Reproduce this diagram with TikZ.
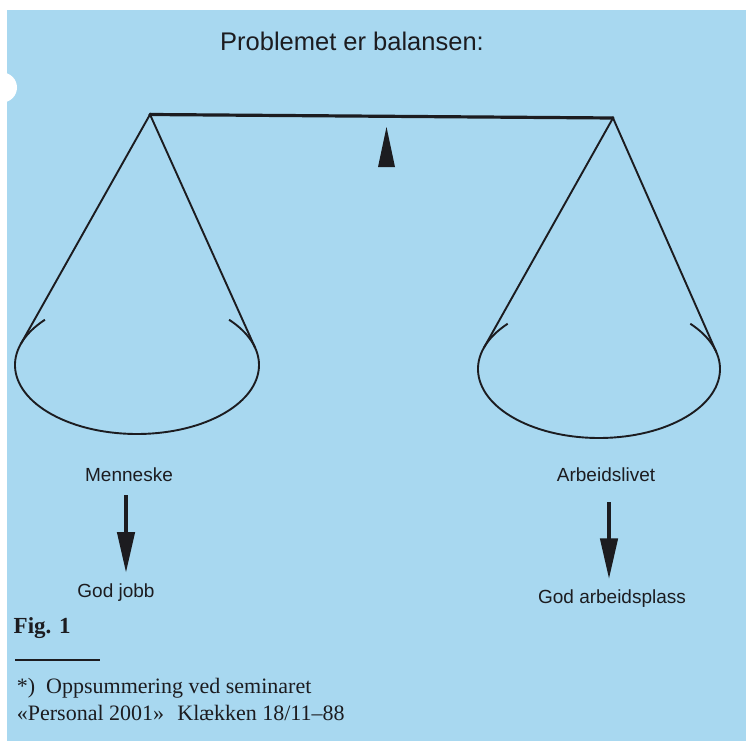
\documentclass[tikz,border=0pt]{standalone}
\usepackage{fontspec}
\usepackage{tikz}
\usetikzlibrary{arrows.meta,calc}
\newfontfamily\sansfnt{Liberation Sans}
\newfontfamily\seriffnt{Liberation Serif}
\definecolor{paperblue}{RGB}{168,216,240}
\definecolor{ink}{RGB}{28,28,32}

\begin{document}
\begin{tikzpicture}[x=1pt,y=1pt]
    \tikzstyle{every node}+=[inner sep=0pt]
    \tikzstyle{sanslbl}=[font=\sansfnt\fontsize{19}{22}\selectfont, text=ink, anchor=base]
    \tikzstyle{notetxt}=[font=\seriffnt\fontsize{22}{26}\selectfont, text=ink, anchor=base west]
    \tikzstyle{string}=[draw=ink, line width=1.9pt]
    \tikzstyle{downarrow}=[draw=ink, line width=4.5pt, -{Triangle[length=41pt,width=17pt]}, shorten >=10pt]
    \useasboundingbox (0,-741) rectangle (746,0);
    \fill [white] (0,-741) rectangle (746,0);
    \fill [paperblue] (7,-741) rectangle (746,-10);
    \fill [white] (2,-87.5) circle (15);
    \node [sanslbl, font=\sansfnt\fontsize{25.5}{30}\selectfont] (title) at (352,-50.7) {Problemet er balansen:};
    \coordinate (lapex) at (150,-114.5);
    \coordinate (rapex) at (613,-118);
    \coordinate (lpan) at (137,-365);
    \coordinate (rpan) at (599,-369);
    \draw [string] ($(lpan)+(162.3:122pt and 69pt)$) -- (lapex) -- ($(lpan)+(14.3:122pt and 69pt)$);
    \draw [string] ($(rpan)+(162.2:121pt and 69pt)$) -- (rapex) -- ($(rpan)+(14.1:121pt and 69pt)$);
    \draw [string] ($(lpan)+(139:122pt and 69pt)$) arc [start angle=139, end angle=401, x radius=122pt, y radius=69pt];
    \draw [string] ($(rpan)+(139:121pt and 69pt)$) arc [start angle=139, end angle=401, x radius=121pt, y radius=69pt];
    \draw [ink, line width=3.2pt, line cap=round] (lapex) -- (rapex);
    \fill [ink] (386.5,-127) -- (395,-167) -- (378,-167) -- cycle;
    \node [sanslbl] (menneske) at (129,-481) {Menneske};
    \node [sanslbl] (arbeid) at (606,-481.7) {Arbeidslivet};
    \node [sanslbl] (godjobb) at (116,-597) {God jobb};
    \node [sanslbl] (godplass) at (612,-603.3) {God arbeidsplass};
    \draw [downarrow, shorten <=14pt] ([xshift=-3pt]menneske.south) -- ([xshift=10pt]godjobb.north);
    \draw [downarrow, shorten <=20pt] ([xshift=3pt]arbeid.south) -- ([xshift=-3pt]godplass.north);
    \node [notetxt, font=\seriffnt\bfseries\fontsize{23}{27}\selectfont] (fig) at (13.5,-633) {Fig. 1};
    \draw [ink, line width=1.3pt] (15,-660) -- (100,-660);
    \node [notetxt] (note1) at (16.7,-693) {*)\hspace{0.5em}Oppsummering ved seminaret};
    \node [notetxt] (note2) at (16.7,-720.7) {«Personal 2001»\hspace{0.6em}Klækken 18/11–88};
\end{tikzpicture}
\end{document}
